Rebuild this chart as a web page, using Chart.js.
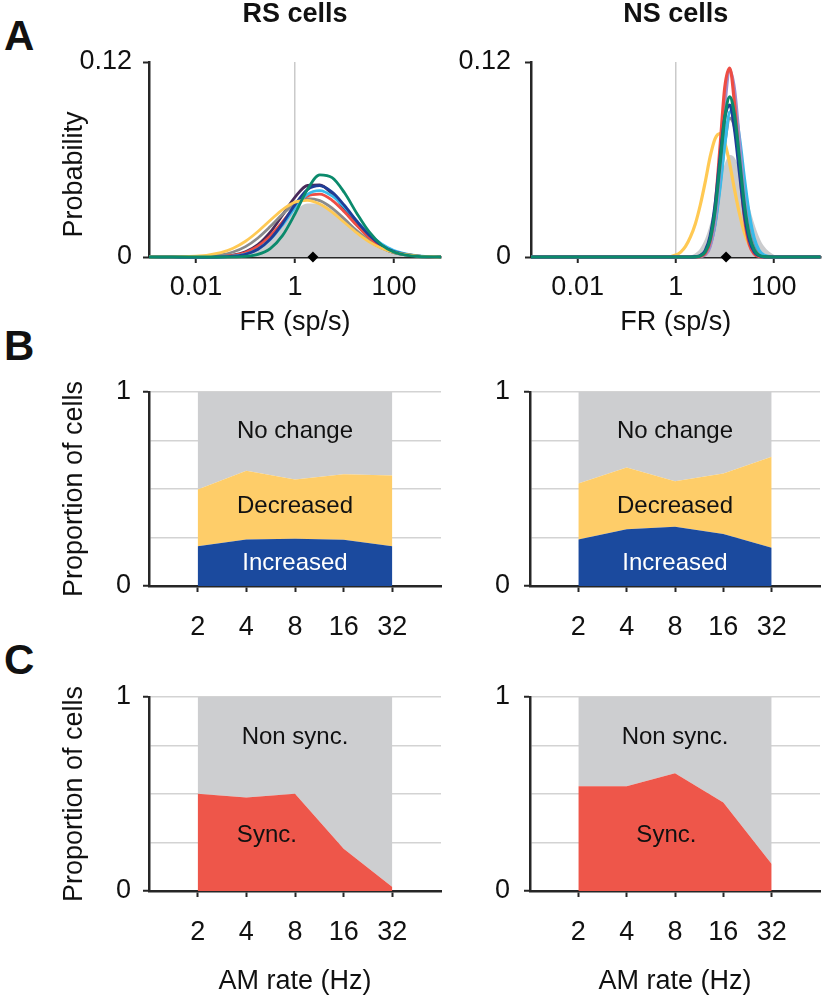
<!DOCTYPE html>
<html><head><meta charset="utf-8">
<script src="https://cdn.jsdelivr.net/npm/chart.js@4.4.0/dist/chart.umd.min.js"></script>
<style>
html,body{margin:0;padding:0;background:#fff}
body{width:826px;height:999px;position:relative;overflow:hidden;font-family:'Liberation Sans',Arial,Helvetica,sans-serif}
canvas{position:absolute}
.letter{position:absolute;font-weight:bold;font-size:42px;line-height:42px;color:#111}
</style></head><body>
<div class="letter" style="left:4px;top:15px">A</div>
<div class="letter" style="left:4px;top:325px">B</div>
<div class="letter" style="left:4px;top:639px">C</div>
<canvas id="aL" width="450" height="340" style="left:0;top:0"></canvas>
<canvas id="aR" width="386" height="340" style="left:440px;top:0"></canvas>
<canvas id="bL" width="450" height="290" style="left:0;top:360px"></canvas>
<canvas id="bR" width="386" height="290" style="left:440px;top:360px"></canvas>
<canvas id="cL" width="450" height="339" style="left:0;top:660px"></canvas>
<canvas id="cR" width="386" height="339" style="left:440px;top:660px"></canvas>
<script>
// ---------------- DATA ----------------
// Panel A: firing-rate distributions (probability per FR bin)
const FR_TICKS = [0.01, 1, 100];
const PROB_TICKS = [0, 0.12];

const RS_FR = [0.00112, 0.01, 0.0316, 0.0562, 0.1, 0.178, 0.316, 0.562, 1, 1.78, 3.16, 5.62, 10, 17.8, 31.6, 56.2, 100, 316, 891];
const RS_ALL    = [0, 0, 0.0003, 0.0010, 0.0027, 0.0062, 0.0123, 0.0203, 0.0283, 0.0330, 0.0328, 0.0291, 0.0230, 0.0163, 0.0103, 0.0059, 0.0030, 0.0005, 0];
const RS_GRAY   = [0, 0.0002, 0.0013, 0.0031, 0.0064, 0.0117, 0.0187, 0.0264, 0.0328, 0.0359, 0.0347, 0.0301, 0.0233, 0.0161, 0.0100, 0.0056, 0.0028, 0.0005, 0];
const RS_YELLOW = [0, 0.0005, 0.0027, 0.0054, 0.0097, 0.0157, 0.0226, 0.0292, 0.0338, 0.0349, 0.0326, 0.0276, 0.0212, 0.0148, 0.0093, 0.0054, 0.0028, 0.0006, 0];
const RS_RED    = [0, 0, 0.0003, 0.0010, 0.0028, 0.0066, 0.0130, 0.0218, 0.0310, 0.0376, 0.0387, 0.0349, 0.0277, 0.0193, 0.0119, 0.0064, 0.0031, 0.0005, 0];
const RS_CYAN   = [0, 0, 0.0001, 0.0006, 0.0018, 0.0048, 0.0107, 0.0198, 0.0303, 0.0386, 0.0409, 0.0376, 0.0306, 0.0221, 0.0142, 0.0080, 0.0040, 0.0007, 0];
const RS_BLUE   = [0, 0, 0.0001, 0.0005, 0.0017, 0.0048, 0.0110, 0.0207, 0.0322, 0.0414, 0.0439, 0.0399, 0.0317, 0.0220, 0.0134, 0.0071, 0.0033, 0.0005, 0];
const RS_PURPLE = [0, 0, 0.0003, 0.0011, 0.0032, 0.0076, 0.0153, 0.0259, 0.0368, 0.0440, 0.0443, 0.0388, 0.0297, 0.0199, 0.0116, 0.0059, 0.0026, 0.0004, 0];
const RS_GREEN  = [0, 0, 0, 0.0001, 0.0004, 0.0016, 0.0052, 0.0133, 0.0266, 0.0415, 0.0505, 0.0488, 0.0395, 0.0268, 0.0154, 0.0074, 0.0030, 0.0003, 0];
const RS_MEDIAN = 2.3;

const NS_FR = [0.00112, 0.631, 1, 1.26, 1.58, 2.0, 2.51, 3.16, 3.98, 5.01, 6.31, 7.94, 10, 12.6, 15.8, 20.0, 25.1, 31.6, 39.8, 50.1, 63.1, 100, 158, 891];
const NS_ALL    = [0, 0, 0, 0.0001, 0.0003, 0.0009, 0.0023, 0.0054, 0.0112, 0.0205, 0.0328, 0.0463, 0.0575, 0.0628, 0.0611, 0.0538, 0.0430, 0.0311, 0.0205, 0.0122, 0.0066, 0.0014, 0.0002, 0];
const NS_GRAY   = [0, 0, 0, 0, 0, 0, 0.0001, 0.0004, 0.0020, 0.0075, 0.0208, 0.0440, 0.0704, 0.0855, 0.0800, 0.0596, 0.0354, 0.0167, 0.0063, 0.0019, 0.0005, 0, 0, 0];
const NS_YELLOW = [0, 0, 0.0012, 0.0030, 0.0065, 0.0125, 0.0205, 0.0320, 0.0461, 0.0616, 0.0727, 0.0759, 0.0701, 0.0572, 0.0413, 0.0263, 0.0149, 0.0074, 0.0033, 0.0013, 0.0004, 0, 0, 0];
const NS_RED    = [0, 0, 0, 0, 0, 0, 0, 0.0003, 0.0022, 0.0096, 0.0302, 0.0668, 0.1047, 0.1163, 0.0937, 0.0554, 0.0241, 0.0077, 0.0018, 0.0003, 0, 0, 0, 0];
const NS_PURPLE = [0, 0, 0, 0, 0, 0, 0, 0.0002, 0.0013, 0.0063, 0.0218, 0.0536, 0.0933, 0.1148, 0.1028, 0.0698, 0.0359, 0.0140, 0.0041, 0.0009, 0.0001, 0, 0, 0];
const NS_GREEN  = [0, 0, 0, 0, 0, 0, 0.0001, 0.0007, 0.0031, 0.0107, 0.0283, 0.0566, 0.0858, 0.0985, 0.0869, 0.0598, 0.0320, 0.0133, 0.0043, 0.0011, 0.0002, 0, 0, 0];
const NS_BLUE   = [0, 0, 0, 0, 0, 0, 0.0002, 0.0009, 0.0039, 0.0127, 0.0317, 0.0600, 0.0860, 0.0935, 0.0785, 0.0513, 0.0261, 0.0104, 0.0032, 0.0008, 0.0001, 0, 0, 0];
const NS_CYAN   = [0, 0, 0, 0, 0, 0, 0.0001, 0.0005, 0.0021, 0.0073, 0.0199, 0.0421, 0.0694, 0.0892, 0.0896, 0.0729, 0.0482, 0.0260, 0.0114, 0.0040, 0.0012, 0.0001, 0, 0];
const NS_MEDIAN = 10.6;

// Panels B and C: proportion of cells per AM rate
const AM_RATES = [2, 4, 8, 16, 32];
const RS_INCREASED = [0.205, 0.240, 0.243, 0.238, 0.205];
const RS_DECREASED = [0.292, 0.354, 0.306, 0.338, 0.364];
const RS_NOCHANGE  = [0.503, 0.406, 0.451, 0.424, 0.431];
const NS_INCREASED = [0.240, 0.292, 0.305, 0.268, 0.197];
const NS_DECREASED = [0.288, 0.319, 0.235, 0.312, 0.469];
const NS_NOCHANGE  = [0.472, 0.389, 0.460, 0.420, 0.334];
const RS_SYNC    = [0.501, 0.482, 0.501, 0.218, 0.021];
const RS_NONSYNC = [0.499, 0.518, 0.499, 0.782, 0.979];
const NS_SYNC    = [0.540, 0.540, 0.607, 0.456, 0.139];
const NS_NONSYNC = [0.460, 0.460, 0.393, 0.544, 0.861];

// ---------------- STYLE ----------------
const COL = {
  all:'#cbccce', gray:'#8a8a8c', yellow:'#ffc953', red:'#ee4d44', cyan:'#39bbea',
  blue:'#1f3d97', purpleRS:'#4a2a5a', purpleNS:'#a08ccb', green:'#0b8a6c',
  noch:'#cdced0', dec:'#fecd69', inc:'#1b4a9e', sync:'#ee564a', axis:'#262626', grid:'#d3d3d3'
};
const FONT = "'Liberation Sans', Arial, Helvetica, sans-serif";
Chart.defaults.font.family = FONT;
Chart.defaults.color = '#111';

function pts(xs, ys){ return xs.map((x,i)=>({x:x, y:ys[i]})); }

const areaLabels = {
  id:'areaLabels',
  afterDatasetsDraw(chart, args, opts){
    const ctx = chart.ctx, xs = chart.scales.x, ys = chart.scales.y;
    (opts.items||[]).forEach(it=>{
      ctx.save();
      ctx.font = '24px ' + FONT;
      ctx.fillStyle = it.color;
      ctx.textAlign = 'center';
      ctx.textBaseline = 'middle';
      ctx.fillText(it.text, xs.getPixelForValue(it.x), ys.getPixelForValue(it.y));
      ctx.restore();
    });
  }
};

function distChart(id, cfg){
  const ds = cfg.curves.map((c,i)=>({
    data: pts(cfg.fr, c.values),
    borderColor: c.fill ? 'rgba(0,0,0,0)' : c.color,
    backgroundColor: c.color,
    borderWidth: c.fill ? 0 : cfg.lw,
    fill: c.fill ? 'origin' : false,
    pointRadius: 0,
    cubicInterpolationMode: 'monotone',
    clip: false,
    order: 100 - i
  }));
  ds.push({data:[{x:cfg.median, y:0}], showLine:false, pointStyle:'rectRot', pointRadius:5.5,
    pointBackgroundColor:'#000', pointBorderColor:'#000', pointBorderWidth:0, clip:false, order:0});
  new Chart(document.getElementById(id), {
    type:'line',
    data:{datasets:ds},
    options:{
      responsive:false, animation:false, events:[],
      layout:{padding:{top:0, left:0, right:cfg.padRight, bottom:0}},
      plugins:{
        legend:{display:false}, tooltip:{enabled:false},
        title:{display:true, text:cfg.title, fullSize:false, color:'#111',
          font:{size:27, weight:'bold', lineHeight:1}, padding:{top:1.5, bottom:33.5}}
      },
      scales:{
        x:{type:'logarithmic', min:0.00112, max:891,
          afterBuildTicks:s=>{ s.ticks = FR_TICKS.map(v=>({value:v})); },
          afterFit:s=>{ s.height = 83; },
          ticks:{autoSkip:false, maxRotation:0, padding:8, font:{size:27}, color:'#111', callback:v=>String(v)},
          grid:{color:c=>(c.tick && c.tick.value===1) ? '#cacaca' : 'rgba(0,0,0,0)', lineWidth:1.5,
            tickLength:6, tickColor:COL.axis, tickWidth:2},
          border:{color:COL.axis, width:2.5},
          title:{display:true, text:'FR (sp/s)', font:{size:27}, color:'#111', padding:{top:0, bottom:1.3}}
        },
        y:{min:0, max:0.12,
          afterBuildTicks:s=>{ s.ticks = PROB_TICKS.map(v=>({value:v})); },
          afterFit:s=>{ s.width = cfg.yWidth; },
          ticks:{padding:cfg.yPad, font:{size:27}, color:'#111', callback:v=>String(v)},
          grid:{color:'rgba(0,0,0,0)', tickLength:6, tickColor:COL.axis, tickWidth:2},
          border:{color:COL.axis, width:2.5},
          title:{display:!!cfg.yTitle, text:cfg.yTitle || '', font:{size:27}, color:'#111', padding:{top:58, bottom:0}}
        }
      }
    }
  });
}

function propChart(id, cfg){
  const ds = cfg.layers.map((l,i)=>({
    data: pts(AM_RATES, l.values),
    backgroundColor: l.color, borderColor: l.color, borderWidth: 0,
    fill: i===0 ? 'origin' : '-1', pointRadius: 0, tension: 0, order: i
  }));
  new Chart(document.getElementById(id), {
    type:'line',
    data:{datasets:ds},
    plugins:[areaLabels],
    options:{
      responsive:false, animation:false, events:[],
      layout:{padding:{top:cfg.padTop, left:0, right:cfg.padRight, bottom:0}},
      plugins:{legend:{display:false}, tooltip:{enabled:false}, areaLabels:{items:cfg.labels}},
      scales:{
        x:{type:'logarithmic', min:1, max:64,
          afterBuildTicks:s=>{ s.ticks = AM_RATES.map(v=>({value:v})); },
          afterFit:s=>{ s.height = cfg.xHeight; },
          ticks:{autoSkip:false, maxRotation:0, padding:19, font:{size:27}, color:'#111', callback:v=>String(v)},
          grid:{drawOnChartArea:false, tickLength:6, tickColor:COL.axis, tickWidth:2},
          border:{color:COL.axis, width:2.5},
          title:{display:!!cfg.xTitle, text:cfg.xTitle || '', font:{size:27}, color:'#111', padding:{top:0, bottom:1}}
        },
        y:{stacked:true, min:0, max:1,
          afterFit:s=>{ s.width = cfg.yWidth; },
          ticks:{stepSize:0.25, padding:cfg.yPad, font:{size:27}, color:'#111',
            callback:v=>(v===0 || v===1) ? String(v) : ''},
          grid:{color:c=>(c.tick && c.tick.value>0) ? COL.grid : 'rgba(0,0,0,0)', lineWidth:1.5,
            tickLength:6, tickColor:c=>(c.tick && (c.tick.value===0 || c.tick.value===1)) ? COL.axis : 'rgba(0,0,0,0)', tickWidth:2},
          border:{color:COL.axis, width:2.5},
          title:{display:!!cfg.yTitle, text:cfg.yTitle || '', font:{size:27}, color:'#111', padding:{top:58, bottom:0}}
        }
      }
    }
  });
}

// ---------------- PANEL A ----------------
distChart('aL', {
  title:'RS cells', yTitle:'Probability    ', yWidth:149, yPad:11, padRight:9, lw:2.8,
  fr: RS_FR, median: RS_MEDIAN,
  curves:[
    {values:RS_ALL, color:COL.all, fill:true},
    {values:RS_PURPLE, color:COL.purpleRS},
    {values:RS_GRAY, color:COL.gray},
    {values:RS_RED, color:COL.red},
    {values:RS_CYAN, color:COL.cyan},
    {values:RS_BLUE, color:COL.blue},
    {values:RS_YELLOW, color:COL.yellow},
    {values:RS_GREEN, color:COL.green}
  ]
});
distChart('aR', {
  title:'NS cells', yTitle:'', yWidth:91, yPad:14, padRight:2, lw:3.2,
  fr: NS_FR, median: NS_MEDIAN,
  curves:[
    {values:NS_ALL, color:COL.all, fill:true},
    {values:NS_GRAY, color:COL.gray},
    {values:NS_YELLOW, color:COL.yellow},
    {values:NS_CYAN, color:COL.cyan},
    {values:NS_PURPLE, color:COL.purpleNS},
    {values:NS_RED, color:COL.red},
    {values:NS_BLUE, color:COL.blue},
    {values:NS_GREEN, color:COL.green}
  ]
});

// ---------------- PANEL B ----------------
const B_LABELS = [
  {text:'No change', x:8, y:0.798, color:'#111'},
  {text:'Decreased', x:8, y:0.411, color:'#111'},
  {text:'Increased', x:8, y:0.117, color:'#ffffff'}
];
propChart('bL', {
  yTitle:'Proportion of cells', yWidth:149, yPad:12, padRight:9, padTop:32, xHeight:64,
  layers:[{values:RS_INCREASED, color:COL.inc},{values:RS_DECREASED, color:COL.dec},{values:RS_NOCHANGE, color:COL.noch}],
  labels:B_LABELS
});
propChart('bR', {
  yTitle:'', yWidth:90, yPad:14, padRight:6, padTop:32, xHeight:64,
  layers:[{values:NS_INCREASED, color:COL.inc},{values:NS_DECREASED, color:COL.dec},{values:NS_NOCHANGE, color:COL.noch}],
  labels:B_LABELS
});

// ---------------- PANEL C ----------------
propChart('cL', {
  yTitle:'Proportion of cells', xTitle:'AM rate (Hz)', yWidth:149, yPad:12, padRight:9, padTop:37, xHeight:108,
  layers:[{values:RS_SYNC, color:COL.sync},{values:RS_NONSYNC, color:COL.noch}],
  labels:[{text:'Non sync.', x:8, y:0.791, color:'#111'},{text:'Sync.', x:5.36, y:0.289, color:'#111'}]
});
propChart('cR', {
  yTitle:'', xTitle:'AM rate (Hz)', yWidth:90, yPad:14, padRight:6, padTop:37, xHeight:108,
  layers:[{values:NS_SYNC, color:COL.sync},{values:NS_NONSYNC, color:COL.noch}],
  labels:[{text:'Non sync.', x:8, y:0.791, color:'#111'},{text:'Sync.', x:7.07, y:0.289, color:'#111'}]
});
</script>
</body></html>
